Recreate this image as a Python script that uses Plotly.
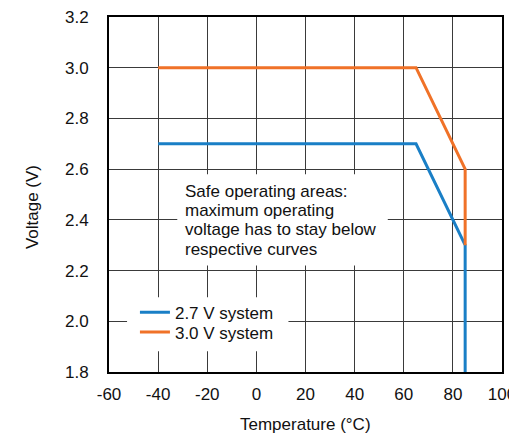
import plotly.graph_objects as go

temp_27 = [-40, 65, 85, 85]
volt_27 = [2.7, 2.7, 2.3, 1.8]
temp_30 = [-40, 65, 85, 85]
volt_30 = [3.0, 3.0, 2.6, 2.3]
names = ["2.7 V system", "3.0 V system"]
x_ticks = [-60, -40, -20, 0, 20, 40, 60, 80, 100]
y_ticks = [1.8, 2.0, 2.2, 2.4, 2.6, 2.8, 3.0, 3.2]
note_lines = ["Safe operating areas:", "maximum operating",
              "voltage has to stay below", "respective curves"]

fig = go.Figure()
fig.add_trace(go.Scatter(x=temp_27, y=volt_27, mode="lines", name=names[0],
                         line=dict(color="#1a7fc6", width=3), legend="legend"))
fig.add_trace(go.Scatter(x=temp_30, y=volt_30, mode="lines", name=names[1],
                         line=dict(color="#f07228", width=3), legend="legend2"))

font = "Liberation Sans, Arial, sans-serif"
leg_common = dict(xanchor="left", yanchor="top", bgcolor="rgba(0,0,0,0)",
                  borderwidth=0, font=dict(size=17, color="#111", family=font),
                  itemwidth=30)
fig.update_layout(
    width=509, height=426,
    margin=dict(l=101, r=15, t=9, b=62),
    paper_bgcolor="white", plot_bgcolor="white",
    font=dict(family=font, size=17, color="#111"),
    showlegend=True,
    legend=dict(x=0.066, y=0.218, **leg_common),
    legend2=dict(x=0.066, y=0.162, **leg_common),
    xaxis=dict(range=[-60, 100], tickvals=x_ticks, ticktext=[str(v) for v in x_ticks],
               showgrid=True, gridcolor="#3a3a3a", gridwidth=1, zeroline=False,
               showline=True, linecolor="black", linewidth=2, mirror=True,
               ticks="", automargin=False, ticklabelstandoff=6,
               ticklabeloverflow="allow"),
    yaxis=dict(range=[1.8, 3.2], tickvals=y_ticks, ticktext=[f"{v:.1f}" for v in y_ticks],
               showgrid=True, gridcolor="#3a3a3a", gridwidth=1, zeroline=False,
               showline=True, linecolor="black", linewidth=2, mirror=True,
               ticks="", automargin=False, ticklabelstandoff=15,
               ticklabeloverflow="allow"),
)
# white boxes behind the note and the legend (above gridlines, below traces)
fig.add_shape(type="rect", xref="x", yref="y", x0=-32.2, x1=53.5, y0=2.22, y1=2.58,
              fillcolor="white", line=dict(width=0), layer="between")
fig.add_shape(type="rect", xref="x", yref="y", x0=-52.65, x1=13.06, y0=1.882, y1=2.095,
              fillcolor="white", line=dict(width=0), layer="between")
for i, line in enumerate(note_lines):
    fig.add_annotation(x=-29.8, y=2.513 - i * 0.076, xref="x", yref="y",
                       xanchor="left", yanchor="middle", text=line, showarrow=False,
                       align="left", font=dict(size=17, color="#111", family=font))
fig.add_annotation(x=0.5, y=-0.149, xref="paper", yref="paper", text="Temperature (°C)",
                   showarrow=False, xanchor="center", yanchor="middle",
                   font=dict(size=17, color="#111", family=font))
fig.add_annotation(x=-0.193, y=0.465, xref="paper", yref="paper", text="Voltage (V)",
                   showarrow=False, textangle=-90, xanchor="center", yanchor="middle",
                   font=dict(size=17, color="#111", family=font))
fig.write_html("out.html")
